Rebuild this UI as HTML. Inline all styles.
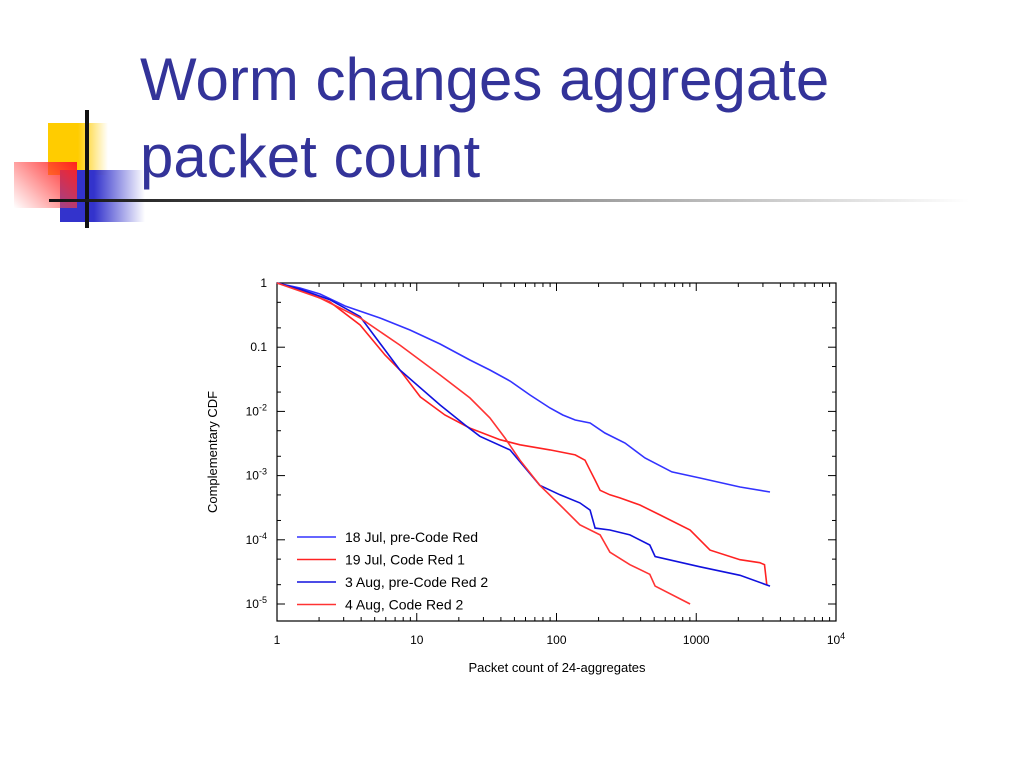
<!DOCTYPE html>
<html><head><meta charset="utf-8"><style>
body{margin:0;width:1024px;height:768px;background:#fff;overflow:hidden;position:relative;font-family:"Liberation Sans","DejaVu Sans",sans-serif}
.t{position:absolute;left:140px;color:#333399;font-size:60px;line-height:1;white-space:nowrap}
</style></head><body>
<div>
<div style="position:absolute;left:48px;top:123px;width:60px;height:52px;background:linear-gradient(90deg,#ffcc00 50%,rgba(255,204,0,0))"></div>
<div style="position:absolute;left:60px;top:170px;width:85px;height:52px;background:linear-gradient(90deg,#3333cc 40%,rgba(51,51,204,0))"></div>
<div style="position:absolute;left:14px;top:162px;width:63px;height:46px;background:linear-gradient(45deg,rgba(255,255,255,0.2),#ff2020)"></div>
<div style="position:absolute;left:85px;top:110px;width:4px;height:118px;background:#111"></div>
<div style="position:absolute;left:49px;top:199px;width:920px;height:3px;background:linear-gradient(90deg,#111,#888 50%,#fff)"></div>
</div>
<div class="t" style="top:50px">Worm changes aggregate</div>
<div class="t" style="top:127px">packet count</div>
<svg id="c" width="1024" height="768" style="position:absolute;left:0;top:0"></svg>
<script>
const xTicks=[1,10,100,1000,10000];
const xTickLabels=["1","10","100","1000","10^4"];
const yTicks=[1,0.1,0.01,0.001,0.0001,0.00001];
const yTickLabels=["1","0.1","10^-2","10^-3","10^-4","10^-5"];
const seriesNames=["18 Jul, pre-Code Red","19 Jul, Code Red 1","3 Aug, pre-Code Red 2","4 Aug, Code Red 2"];
const seriesColors=["#3333ff","#ff2222","#1111dd","#ff3333"];
const s1x=[1,1.46,2.03,3.07,5.46,8.95,14.7,24.0,33.4,46.5,64.6,89.9,111,136,174,222,309,430,670,1064,2056,3373];
const s1y=[1,0.836,0.674,0.438,0.285,0.185,0.112,0.0632,0.0442,0.0298,0.018,0.0113,0.00879,0.00734,0.00659,0.00461,0.00322,0.00188,0.00114,0.000918,0.000664,0.000555];
const s2x=[1,1.46,2.39,3.93,5.93,7.57,10.6,15.9,24.0,39.4,54.8,89.9,136,160,174,189,205,241,284,395,549,904,1254,2056,2850,3080,3200];
const s2y=[1,0.778,0.506,0.222,0.0755,0.0442,0.0168,0.00879,0.00549,0.00362,0.00302,0.00251,0.0021,0.00174,0.00121,0.00085,0.00059,0.000502,0.00045,0.000349,0.000244,0.000142,6.9e-5,4.9e-5,4.4e-5,4.1e-5,2.0e-5];
const s3x=[1,1.46,2.39,3.93,7.57,14.7,22.2,28.3,46.5,76.0,106,147,174,189,241,335,465,508,1064,2056,3373];
const s3y=[1,0.8,0.55,0.3,0.0442,0.0126,0.00612,0.0041,0.00251,0.000707,0.000502,0.000375,0.00029,0.000152,0.000142,0.000119,8.3e-5,5.5e-5,3.8e-5,2.8e-5,1.9e-5];
const s4x=[1,2.03,3.93,7.57,14.7,24.0,33.4,42.8,54.8,76.0,106,147,205,241,335,465,508,904];
const s4y=[1,0.584,0.285,0.108,0.0369,0.0162,0.00792,0.00385,0.00174,0.000707,0.000349,0.000171,0.000119,6.4e-5,4.1e-5,2.9e-5,1.9e-5,1.0e-5];
const XS=[s1x,s2x,s3x,s4x], YS=[s1y,s2y,s3y,s4y];
const L=277,R=836,T=283,B=621,Y1=283,DY=64.2,DX=139.75;
const sx=v=>L+Math.log10(v)*DX, sy=v=>Y1-Math.log10(v)*DY;
const svg=document.getElementById('c'),NS="http://www.w3.org/2000/svg";
function mk(tag,at,parent){const e=document.createElementNS(NS,tag);for(const k in at)e.setAttribute(k,at[k]);(parent||svg).appendChild(e);return e;}
const frame=mk('rect',{x:L,y:T,width:R-L,height:B-T,fill:'none',stroke:'#000','stroke-width':1.2});


function sup(txt,x,y,anchor){
  const t=mk('text',{x:x,y:y,'text-anchor':anchor,'font-size':12,fill:'#000'});
  const m=txt.split('^');
  if(m.length>1){t.textContent=m[0];const ts=mk('tspan',{dy:-5,'font-size':9},t);ts.textContent=m[1];}
  else t.textContent=txt;
  return t;
}
for(let d=0;d<4;d++){for(let k=2;k<10;k++){const x=sx(xTicks[d]*k);mk('line',{x1:x,x2:x,y1:B,y2:B-4,stroke:'#000'});mk('line',{x1:x,x2:x,y1:T,y2:T+4,stroke:'#000'});}}
xTicks.forEach((v,i)=>{const x=sx(v);mk('line',{x1:x,x2:x,y1:B,y2:B-8,stroke:'#000'});mk('line',{x1:x,x2:x,y1:T,y2:T+8,stroke:'#000'});
 const t=sup(xTickLabels[i],x,644,'middle');});
yTicks.forEach((v,i)=>{const y=sy(v);mk('line',{x1:L,x2:L+8,y1:y,y2:y,stroke:'#000'});mk('line',{x1:R,x2:R-8,y1:y,y2:y,stroke:'#000'});
 [2,5].forEach(k=>{const y2=sy(v*k/10);if(y2<B){mk('line',{x1:L,x2:L+4,y1:y2,y2:y2,stroke:'#000'});mk('line',{x1:R,x2:R-4,y1:y2,y2:y2,stroke:'#000'});}});
 const t=sup(yTickLabels[i],267,y+4,'end');});
const xt=mk('text',{x:557,y:672,'text-anchor':'middle','font-size':13,fill:'#000'});xt.textContent="Packet count of 24-aggregates";


const yt=mk('text',{x:0,y:0,'text-anchor':'middle','font-size':13,fill:'#000',transform:'translate(217,452) rotate(-90)'});yt.textContent="Complementary CDF";


XS.forEach((xs,i)=>{const pts=xs.map((v,j)=>sx(v).toFixed(1)+','+sy(YS[i][j]).toFixed(1)).join(' ');
 const p=mk('polyline',{points:pts,fill:'none',stroke:seriesColors[i],'stroke-width':1.6});
 
 
 const ly=537+i*22.5;
 const g=mk('g',{});
 
 
 mk('line',{x1:297,x2:336,y1:ly,y2:ly,stroke:seriesColors[i],'stroke-width':1.6},g);
 const t=mk('text',{x:345,y:ly+5,'font-size':14,fill:'#000'},g);t.textContent=seriesNames[i];});
</script>
</body></html>
